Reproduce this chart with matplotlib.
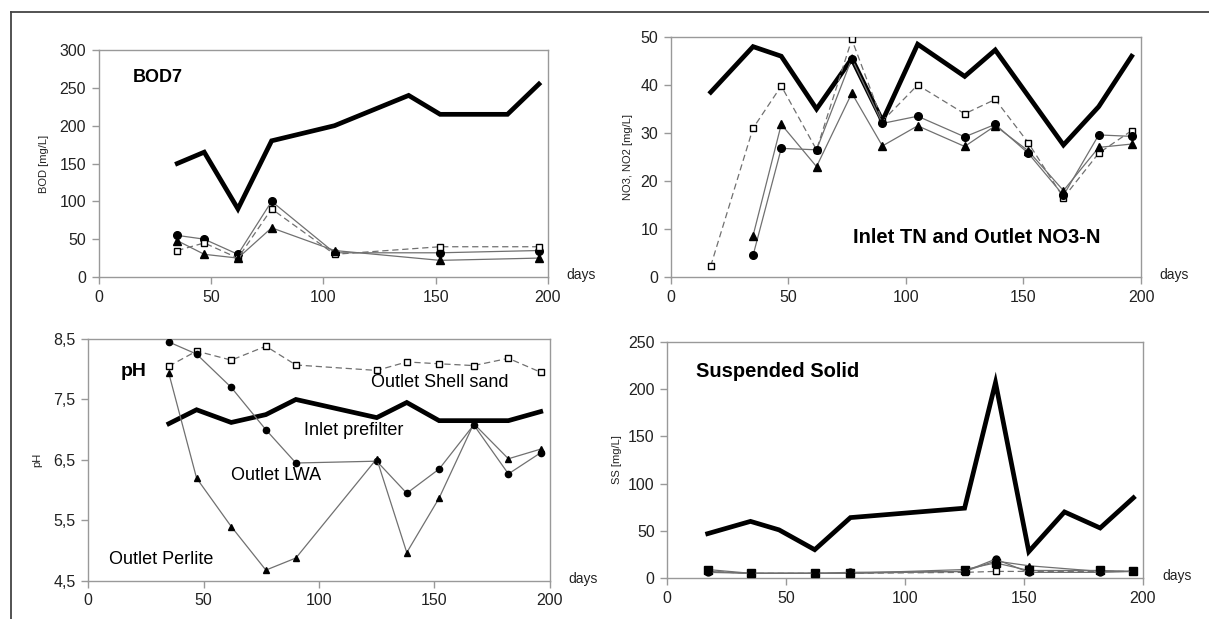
import numpy as np
import matplotlib
matplotlib.use("Agg")
import matplotlib.pyplot as plt
from matplotlib.lines import Line2D
from matplotlib.ticker import FuncFormatter

plt.rcParams['font.family'] = ['Liberation Sans', 'DejaVu Sans']

# ---- BOD7 ----
bod_in_days = [35, 47, 62, 77, 105, 138, 152, 182, 196]
bod_in = [150, 165, 90, 180, 200, 240, 215, 215, 255]
bod_out_days = [35, 47, 62, 77, 105, 152, 196]
bod_lwa = [55, 50, 30, 100, 32, 32, 35]
bod_shell = [35, 45, 25, 90, 30, 40, 40]
bod_perlite = [48, 30, 25, 65, 35, 22, 25]

# ---- NO3 ----
no3_in_days = [17, 35, 47, 62, 77, 90, 105, 125, 138, 167, 182, 196]
no3_in = [38.5, 48, 46, 35, 45.5, 32.5, 48.5, 41.8, 47.3, 27.5, 35.5, 46]
no3_shell_days = [17, 35, 47, 62, 77, 90, 105, 125, 138, 152, 167, 182, 196]
no3_shell = [2.3, 31, 39.8, 26.5, 49.5, 32.5, 40, 34, 37, 28, 16.5, 25.8, 30.5]
no3_days = [35, 47, 62, 77, 90, 105, 125, 138, 152, 167, 182, 196]
no3_lwa = [4.5, 26.8, 26.5, 45.5, 32, 33.5, 29.2, 31.8, 25.8, 17, 29.6, 29.3]
no3_perlite = [8.6, 31.8, 23, 38.3, 27.3, 31.5, 27.2, 31.5, 26.3, 18, 27, 27.7]

# ---- pH ----
ph_days = [35, 47, 62, 77, 90, 125, 138, 152, 167, 182, 196]
ph_in = [7.1, 7.33, 7.12, 7.25, 7.5, 7.2, 7.45, 7.15, 7.15, 7.15, 7.3]
ph_shell = [8.05, 8.3, 8.15, 8.38, 8.07, 7.98, 8.12, 8.09, 8.06, 8.18, 7.95]
ph_lwa = [8.45, 8.25, 7.7, 7.0, 6.45, 6.48, 5.95, 6.35, 7.08, 6.27, 6.62]
ph_perlite = [7.93, 6.2, 5.4, 4.68, 4.88, 6.52, 4.97, 5.87, 7.1, 6.52, 6.68]

# ---- SS ----
ss_days = [17, 35, 47, 62, 77, 125, 138, 152, 167, 182, 196]
ss_in = [47, 60, 51, 30, 64, 74, 207, 28, 70, 53, 85]
ss_out_days = [17, 35, 62, 77, 125, 138, 152, 182, 196]
ss_lwa = [6, 5, 5, 6, 7, 20, 6, 6, 7]
ss_perlite = [9, 5, 5, 5, 9, 16, 8, 8, 7]
ss_third = [7, 5, 5, 5, 7, 18, 13, 7, 7]
ss_shell = [7, 5, 5, 5, 6, 7, 7, 7, 7]

fig = plt.figure(figsize=(12.09, 6.19), dpi=100)

# outer frame (left and top edges)
fig.add_artist(Line2D([11/1209, 11/1209], [0, 1 - 12/619], color='#444444', lw=1.3))
fig.add_artist(Line2D([11/1209, 1], [1 - 12/619, 1 - 12/619], color='#444444', lw=1.3))

ax1 = fig.add_axes([0.0816, 0.5525, 0.3716, 0.3667])
ax2 = fig.add_axes([0.5548, 0.5525, 0.3890, 0.3877])
ax3 = fig.add_axes([0.0728, 0.0614, 0.3821, 0.3910])
ax4 = fig.add_axes([0.5519, 0.0662, 0.3935, 0.3813])

inlet_kw = dict(color='black', lw=3.4, solid_joinstyle='miter', zorder=3)
thin = '#707070'


def outlet(ax, x, y, marker, dashed=False, fill='black', ms=5.5):
    ax.plot(x, y, color=thin, lw=0.9, ls=(0, (5, 3)) if dashed else '-',
            marker=marker, markersize=ms, markerfacecolor=fill,
            markeredgecolor='black', markeredgewidth=1.0, zorder=4)


def style(ax, ylim, yticks, ylabel, labx):
    ax.set_xlim(0, 200)
    ax.set_ylim(*ylim)
    ax.set_xticks([0, 50, 100, 150, 200])
    ax.set_yticks(yticks)
    for s in ax.spines.values():
        s.set_color('#999999')
        s.set_linewidth(1.0)
    ax.tick_params(direction='out', length=5, width=1, color='#999999',
                   labelsize=11.5, labelcolor='#222222', pad=4)
    ax.set_ylabel(ylabel, fontsize=8, color='#222222')
    ax.yaxis.set_label_coords(labx, 0.5)
    ax.text(1.04, 0.01, 'days', transform=ax.transAxes, fontsize=10,
            va='center', ha='left', color='#222222')


# BOD7
ax1.plot(bod_in_days, bod_in, **inlet_kw)
outlet(ax1, bod_out_days, bod_lwa, 'o')
outlet(ax1, bod_out_days, bod_shell, 's', dashed=True, fill='white', ms=5)
outlet(ax1, bod_out_days, bod_perlite, '^')
style(ax1, (0, 300), [0, 50, 100, 150, 200, 250, 300], 'BOD [mg/L]', -0.110)
ax1.text(15.4, 264, 'BOD7', fontsize=13, fontweight='bold', va='center')

# NO3
ax2.plot(no3_in_days, no3_in, **inlet_kw)
outlet(ax2, no3_shell_days, no3_shell, 's', dashed=True, fill='white', ms=5)
outlet(ax2, no3_days, no3_lwa, 'o')
outlet(ax2, no3_days, no3_perlite, '^')
style(ax2, (0, 50), [0, 10, 20, 30, 40, 50], 'NO3, NO2 [mg/L]', -0.080)
ax2.text(77.6, 8.3, 'Inlet TN and Outlet NO3-N', fontsize=14.5, fontweight='bold', va='center')

# pH
ax3.plot(ph_days, ph_in, **inlet_kw)
outlet(ax3, ph_days, ph_shell, 's', dashed=True, fill='white', ms=5)
outlet(ax3, ph_days, ph_lwa, 'o', ms=4.5)
outlet(ax3, ph_days, ph_perlite, '^', ms=5)
style(ax3, (4.5, 8.5), [4.5, 5.5, 6.5, 7.5, 8.5], 'pH', -0.100)
ax3.yaxis.set_major_formatter(FuncFormatter(lambda v, p: f'{v:.1f}'.replace('.', ',')))
ax3.text(14, 7.96, 'pH', fontsize=14, fontweight='bold', va='center')
ax3.text(122.4, 7.78, 'Outlet Shell sand', fontsize=13, va='center')
ax3.text(93.5, 6.98, 'Inlet prefilter', fontsize=13, va='center')
ax3.text(62, 6.24, 'Outlet LWA', fontsize=13, va='center')
ax3.text(9.3, 4.86, 'Outlet Perlite', fontsize=13, va='center')

# SS
ax4.plot(ss_days, ss_in, **inlet_kw)
outlet(ax4, ss_out_days, ss_shell, 's', dashed=True, fill='white', ms=5)
outlet(ax4, ss_out_days, ss_third, '^', ms=4)
outlet(ax4, ss_out_days, ss_perlite, 's', ms=5.5)
outlet(ax4, ss_out_days, ss_lwa, 'o', ms=5)
style(ax4, (0, 250), [0, 50, 100, 150, 200, 250], 'SS [mg/L]', -0.095)
ax4.text(12.1, 219, 'Suspended Solid', fontsize=14.5, fontweight='bold', va='center')

fig.savefig('out.png', dpi=100)
